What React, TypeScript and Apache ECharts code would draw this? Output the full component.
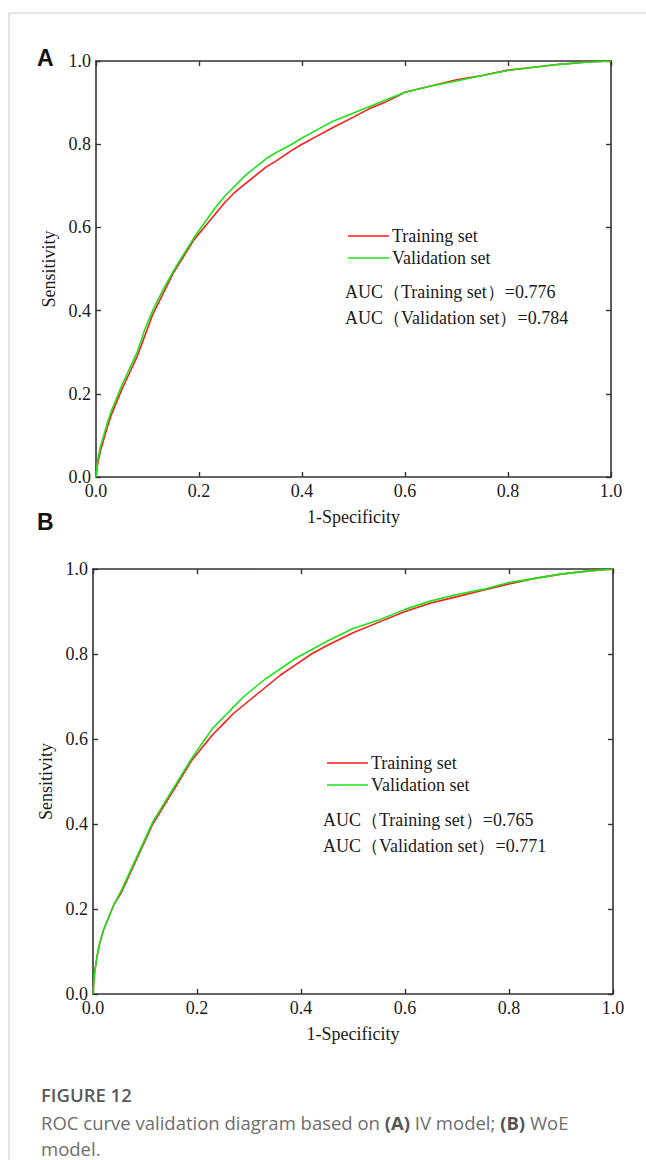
import React, { useEffect, useRef } from "react";
import * as echarts from "echarts";

const tickValues = [0, 0.2, 0.4, 0.6, 0.8, 1.0];
const seriesNames = ["Training set", "Validation set"];
const aucA = ["AUC（Training set）=0.776", "AUC（Validation set）=0.784"];
const aucB = ["AUC（Training set）=0.765", "AUC（Validation set）=0.771"];

const trainA: number[][] = [
  [0, 0], [0.003, 0.03], [0.008, 0.06], [0.015, 0.09], [0.022, 0.12], [0.03, 0.15], [0.04, 0.18], [0.05, 0.21],
  [0.065, 0.25], [0.08, 0.29], [0.095, 0.34], [0.11, 0.39], [0.13, 0.44], [0.15, 0.49], [0.17, 0.53], [0.19, 0.57],
  [0.21, 0.6], [0.23, 0.63], [0.25, 0.66], [0.27, 0.685], [0.29, 0.705], [0.31, 0.725], [0.33, 0.745], [0.35, 0.76],
  [0.38, 0.785], [0.4, 0.8], [0.43, 0.82], [0.46, 0.84], [0.5, 0.865], [0.53, 0.885], [0.56, 0.9], [0.6, 0.925],
  [0.65, 0.94], [0.7, 0.955], [0.75, 0.965], [0.8, 0.978], [0.85, 0.985], [0.9, 0.992], [0.95, 0.997], [1, 1],
];
const validA: number[][] = [
  [0, 0], [0.003, 0.04], [0.008, 0.07], [0.015, 0.1], [0.022, 0.13], [0.03, 0.16], [0.04, 0.19], [0.05, 0.22],
  [0.065, 0.26], [0.08, 0.3], [0.095, 0.355], [0.11, 0.4], [0.13, 0.45], [0.15, 0.495], [0.17, 0.535], [0.19, 0.575],
  [0.21, 0.61], [0.23, 0.645], [0.25, 0.675], [0.27, 0.7], [0.29, 0.725], [0.31, 0.745], [0.33, 0.765], [0.35, 0.78],
  [0.38, 0.8], [0.4, 0.815], [0.43, 0.835], [0.46, 0.855], [0.5, 0.875], [0.53, 0.89], [0.56, 0.905], [0.6, 0.925],
  [0.65, 0.94], [0.7, 0.952], [0.75, 0.965], [0.8, 0.977], [0.85, 0.985], [0.9, 0.992], [0.95, 0.997], [1, 1],
];
const trainB: number[][] = [
  [0, 0], [0.003, 0.05], [0.008, 0.09], [0.013, 0.12], [0.02, 0.15], [0.03, 0.18], [0.04, 0.21], [0.055, 0.24],
  [0.07, 0.28], [0.085, 0.32], [0.1, 0.36], [0.115, 0.4], [0.13, 0.43], [0.15, 0.47], [0.17, 0.51], [0.19, 0.55],
  [0.21, 0.58], [0.23, 0.61], [0.25, 0.635], [0.27, 0.66], [0.29, 0.68], [0.31, 0.7], [0.33, 0.72], [0.36, 0.75],
  [0.39, 0.775], [0.42, 0.8], [0.45, 0.82], [0.5, 0.85], [0.55, 0.875], [0.6, 0.9], [0.65, 0.92], [0.7, 0.935],
  [0.75, 0.95], [0.8, 0.965], [0.85, 0.978], [0.9, 0.988], [0.95, 0.995], [1, 1],
];
const validB: number[][] = [
  [0, 0], [0.003, 0.05], [0.008, 0.09], [0.013, 0.12], [0.02, 0.15], [0.03, 0.18], [0.04, 0.21], [0.055, 0.245],
  [0.07, 0.285], [0.085, 0.325], [0.1, 0.365], [0.115, 0.405], [0.13, 0.435], [0.15, 0.475], [0.17, 0.515], [0.19, 0.555],
  [0.21, 0.59], [0.23, 0.625], [0.25, 0.65], [0.27, 0.675], [0.29, 0.7], [0.31, 0.72], [0.33, 0.74], [0.36, 0.765],
  [0.39, 0.79], [0.42, 0.81], [0.45, 0.83], [0.5, 0.86], [0.55, 0.88], [0.6, 0.905], [0.65, 0.925], [0.7, 0.94],
  [0.75, 0.952], [0.8, 0.968], [0.85, 0.978], [0.9, 0.988], [0.95, 0.995], [1, 1],
];

const RED = "#ff1a1a";
const GREEN = "#19e619";
const AXIS = "#333333";
const SERIF = "'Liberation Serif', 'Times New Roman', serif";
const FS = 18;

function fmt(v: number) {
  return v.toFixed(1);
}

export default function App() {
  const ref = useRef<HTMLDivElement>(null);
  useEffect(() => {
    if (!ref.current) return;
    const chart = echarts.init(ref.current, undefined, { renderer: "svg" });

    const grids = [
      { left: 96, top: 61, width: 515, height: 416 },
      { left: 93, top: 569, width: 520, height: 425 },
    ];

    const baseAxis = {
      type: "value" as const,
      min: 0,
      max: 1,
      interval: 0.2,
      splitLine: { show: false },
      axisLine: { show: true, onZero: false, lineStyle: { color: AXIS, width: 1.6 } },
      axisTick: { show: true, inside: true, length: 5, lineStyle: { color: AXIS, width: 1.4 } },
    };

    const xAxis: any[] = [];
    const yAxis: any[] = [];
    grids.forEach((_, i) => {
      xAxis.push({
        ...baseAxis,
        gridIndex: i,
        position: "bottom",
        name: "1-Specificity",
        nameLocation: "middle",
        nameGap: 31,
        nameTextStyle: { fontFamily: SERIF, fontSize: FS, color: "#1a1a1a" },
        axisLabel: { fontFamily: SERIF, fontSize: FS, color: "#1a1a1a", margin: 5, formatter: fmt },
      });
      xAxis.push({
        ...baseAxis,
        gridIndex: i,
        position: "top",
        axisLabel: { show: false },
      });
      yAxis.push({
        ...baseAxis,
        gridIndex: i,
        position: "left",
        name: "Sensitivity",
        nameLocation: "middle",
        nameGap: i === 0 ? 30 : 36,
        nameTextStyle: { fontFamily: SERIF, fontSize: FS, color: "#1a1a1a" },
        axisLabel: { fontFamily: SERIF, fontSize: FS, color: "#1a1a1a", margin: 5, formatter: fmt },
      });
      yAxis.push({
        ...baseAxis,
        gridIndex: i,
        position: "right",
        axisLabel: { show: false },
      });
    });

    const panels = [
      { train: trainA, valid: validA },
      { train: trainB, valid: validB },
    ];
    const series: any[] = [];
    panels.forEach((p, i) => {
      series.push({
        type: "line",
        name: seriesNames[0],
        xAxisIndex: i * 2,
        yAxisIndex: i * 2,
        data: p.train,
        showSymbol: false,
        lineStyle: { color: RED, width: 1.6 },
        itemStyle: { color: RED },
      });
      series.push({
        type: "line",
        name: seriesNames[1],
        xAxisIndex: i * 2,
        yAxisIndex: i * 2,
        data: p.valid,
        showSymbol: false,
        lineStyle: { color: GREEN, width: 1.6 },
        itemStyle: { color: GREEN },
      });
    });

    const legendBlock = (lx: number, ly: number, ax: number, ay: number, auc: string[]) => [
      { type: "line", shape: { x1: lx, y1: ly, x2: lx + 41, y2: ly }, style: { stroke: RED, lineWidth: 1.6 } },
      { type: "line", shape: { x1: lx, y1: ly + 22, x2: lx + 41, y2: ly + 22 }, style: { stroke: GREEN, lineWidth: 1.6 } },
      { type: "text", x: lx + 44, y: ly, style: { text: seriesNames[0], font: `${FS}px ${SERIF}`, fill: "#1a1a1a", verticalAlign: "middle" } },
      { type: "text", x: lx + 44, y: ly + 22, style: { text: seriesNames[1], font: `${FS}px ${SERIF}`, fill: "#1a1a1a", verticalAlign: "middle" } },
      { type: "text", x: ax, y: ay, style: { text: auc[0], font: `${FS}px ${SERIF}`, fill: "#1a1a1a", verticalAlign: "middle" } },
      { type: "text", x: ax, y: ay + 26, style: { text: auc[1], font: `${FS}px ${SERIF}`, fill: "#1a1a1a", verticalAlign: "middle" } },
    ];

    const captionFont = "'Open Sans', 'Noto Sans', sans-serif";

    chart.setOption({
      animation: false,
      backgroundColor: "#ffffff",
      grid: grids,
      xAxis,
      yAxis,
      series,
      graphic: [
        { type: "line", shape: { x1: 9, y1: 13, x2: 646, y2: 13 }, style: { stroke: "#d0d0d0", lineWidth: 1.2 } },
        { type: "line", shape: { x1: 9, y1: 13, x2: 9, y2: 1160 }, style: { stroke: "#d0d0d0", lineWidth: 1.2 } },
        { type: "text", x: 37, y: 58, style: { text: "A", font: "bold 23px 'Liberation Sans', Arial, sans-serif", fill: "#111", verticalAlign: "middle" } },
        { type: "text", x: 37, y: 522, style: { text: "B", font: "bold 23px 'Liberation Sans', Arial, sans-serif", fill: "#111", verticalAlign: "middle" } },
        ...legendBlock(348, 236, 345, 292, aucA),
        ...legendBlock(327, 763, 323, 820, aucB),
        { type: "text", x: 41, y: 1094, style: { text: "FIGURE 12", font: `600 18.5px ${captionFont}`, fill: "#5a5a5a", verticalAlign: "middle" } },
        {
          type: "text",
          x: 41,
          y: 1109,
          style: {
            text: "ROC curve validation diagram based on {b|(A)} IV model; {b|(B)} WoE\nmodel.",
            font: `18.5px ${captionFont}`,
            fill: "#6e6e6e",
            lineHeight: 26,
            rich: {
              b: { fontWeight: "bold", fontSize: 18.5, fontFamily: captionFont, fill: "#555", lineHeight: 26 },
            },
          },
        },
      ],
    });
    return () => chart.dispose();
  }, []);
  return <div ref={ref} style={{ position: "absolute", left: 0, top: 0, width: 646, height: 1160 }} />;
}
